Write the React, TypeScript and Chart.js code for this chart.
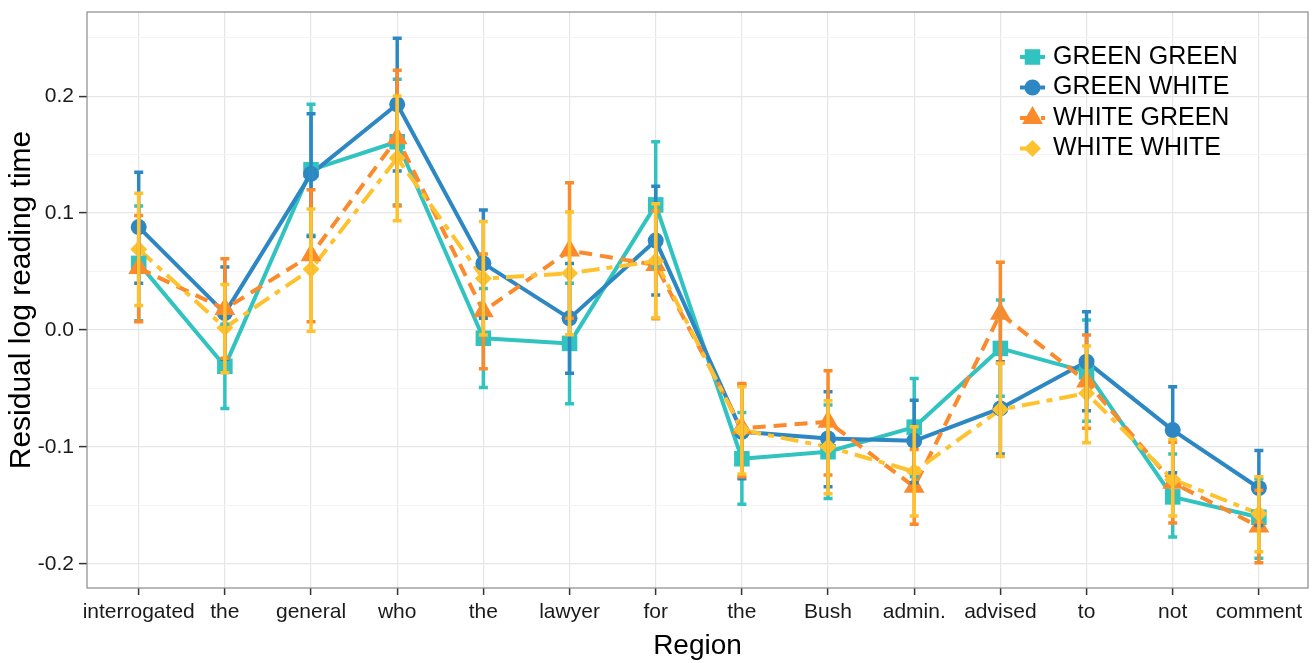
import React, { useEffect, useRef } from "react";
import { Chart, registerables } from "chart.js";

Chart.register(...registerables);

// ---------- data ----------
const categories = [
  "interrogated", "the", "general", "who", "the", "lawyer", "for",
  "the", "Bush", "admin.", "advised", "to", "not", "comment",
];

const seriesNames = ["GREEN GREEN", "GREEN WHITE", "WHITE GREEN", "WHITE WHITE"];

const greenGreenMean = [0.057, -0.031, 0.137, 0.161, -0.007, -0.0114, 0.107, -0.11, -0.104, -0.083, -0.0157, -0.0357, -0.1426, -0.16];
const greenGreenLow = [0.008, -0.067, 0.081, 0.107, -0.049, -0.063, 0.054, -0.149, -0.144, -0.1255, -0.0565, -0.078, -0.177, -0.195];
const greenGreenHigh = [0.106, 0.005, 0.193, 0.2145, 0.0356, 0.04, 0.161, -0.0704, -0.064, -0.0413, 0.0257, 0.0086, -0.106, -0.127];

const greenWhiteMean = [0.088, 0.0145, 0.1335, 0.193, 0.057, 0.01, 0.0765, -0.087, -0.0927, -0.0947, -0.067, -0.027, -0.0855, -0.135];
const greenWhiteLow = [0.04, -0.025, 0.08, 0.136, 0.01, -0.037, 0.03, -0.127, -0.134, -0.1305, -0.106, -0.069, -0.122, -0.167];
const greenWhiteHigh = [0.135, 0.054, 0.185, 0.2495, 0.1026, 0.057, 0.123, -0.047, -0.0527, -0.06, -0.027, 0.0157, -0.0485, -0.103];

const whiteGreenMean = [0.053, 0.018, 0.064, 0.164, 0.016, 0.068, 0.0556, -0.084, -0.0784, -0.134, 0.014, -0.044, -0.1305, -0.168];
const whiteGreenLow = [0.007, -0.024, 0.007, 0.106, -0.033, 0.01, 0.0096, -0.1255, -0.124, -0.166, -0.028, -0.084, -0.165, -0.199];
const whiteGreenHigh = [0.098, 0.061, 0.12, 0.222, 0.065, 0.126, 0.1017, -0.0456, -0.0348, -0.102, 0.058, -0.0043, -0.096, -0.137];

const whiteWhiteMean = [0.069, 0.002, 0.052, 0.147, 0.044, 0.0485, 0.059, -0.0855, -0.0998, -0.121, -0.068, -0.054, -0.1277, -0.157];
const whiteWhiteLow = [0.021, -0.0365, -0.001, 0.0935, -0.0043, -0.004, 0.0105, -0.123, -0.14, -0.159, -0.108, -0.0964, -0.159, -0.1896];
const whiteWhiteHigh = [0.117, 0.039, 0.1035, 0.2, 0.0927, 0.101, 0.108, -0.0485, -0.0605, -0.0827, -0.0285, -0.0137, -0.0935, -0.1255];

const yMajorTicks = [-0.2, -0.1, 0, 0.1, 0.2];
const yTickLabels = ["-0.2", "-0.1", "0.0", "0.1", "0.2"];
const yMinorTicks = [-0.15, -0.05, 0.05, 0.15, 0.25];

// ---------- styles ----------
const FONT = "'Liberation Sans', Arial, sans-serif";

type Style = { color: string; dash: number[]; pointStyle: string; radius: number };
const styles: Style[] = [
  { color: "#31C3BF", dash: [], pointStyle: "rect", radius: 11 },
  { color: "#2C87C3", dash: [], pointStyle: "circle", radius: 8 },
  { color: "#FA8A2C", dash: [13, 8], pointStyle: "triangle", radius: 12 },
  { color: "#FEC22E", dash: [18, 7, 6, 7], pointStyle: "rectRot", radius: 8.5 },
];

const seriesData = [
  { mean: greenGreenMean, low: greenGreenLow, high: greenGreenHigh },
  { mean: greenWhiteMean, low: greenWhiteLow, high: greenWhiteHigh },
  { mean: whiteGreenMean, low: whiteGreenLow, high: whiteGreenHigh },
  { mean: whiteWhiteMean, low: whiteWhiteLow, high: whiteWhiteHigh },
];

const isMajor = (v: number) => yMajorTicks.some((m) => Math.abs(m - v) < 1e-9);

function drawMarker(ctx: CanvasRenderingContext2D, style: string, x: number, y: number, r: number, color: string) {
  ctx.save();
  ctx.fillStyle = color;
  ctx.beginPath();
  if (style === "rect") {
    const s = Math.SQRT1_2 * r;
    ctx.rect(x - s, y - s, 2 * s, 2 * s);
  } else if (style === "circle") {
    ctx.arc(x, y, r, 0, Math.PI * 2);
  } else if (style === "triangle") {
    let rad = 0;
    ctx.moveTo(x + Math.sin(rad) * r, y - Math.cos(rad) * r);
    rad += (2 * Math.PI) / 3;
    ctx.lineTo(x + Math.sin(rad) * r, y - Math.cos(rad) * r);
    rad += (2 * Math.PI) / 3;
    ctx.lineTo(x + Math.sin(rad) * r, y - Math.cos(rad) * r);
    ctx.closePath();
  } else {
    ctx.moveTo(x, y - r);
    ctx.lineTo(x + r, y);
    ctx.lineTo(x, y + r);
    ctx.lineTo(x - r, y);
    ctx.closePath();
  }
  ctx.fill();
  ctx.restore();
}

const errorBarPlugin = {
  id: "errorBars",
  afterDatasetsDraw(chart: any) {
    const { ctx, scales } = chart;
    const xs = scales.x;
    const ys = scales.y;
    ctx.save();
    ctx.lineCap = "butt";
    ctx.lineWidth = 3.5;
    seriesData.forEach((s, si) => {
      ctx.strokeStyle = styles[si].color;
      ctx.setLineDash([]);
      s.low.forEach((lo, i) => {
        const x = xs.getPixelForValue(i);
        const yl = ys.getPixelForValue(lo);
        const yh = ys.getPixelForValue(s.high[i]);
        const cap = 4.5;
        ctx.beginPath();
        ctx.moveTo(x - cap, yh);
        ctx.lineTo(x + cap, yh);
        ctx.moveTo(x, yh);
        ctx.lineTo(x, yl);
        ctx.moveTo(x - cap, yl);
        ctx.lineTo(x + cap, yl);
        ctx.stroke();
      });
    });
    ctx.restore();
  },
};

const panelBorderPlugin = {
  id: "panelBorder",
  afterDraw(chart: any) {
    const { ctx, chartArea } = chart;
    ctx.save();
    ctx.strokeStyle = "#8a8a8a";
    ctx.lineWidth = 1.2;
    ctx.strokeRect(chartArea.left, chartArea.top, chartArea.right - chartArea.left, chartArea.bottom - chartArea.top);
    ctx.restore();
  },
};

const legendPlugin = {
  id: "customLegend",
  afterDraw(chart: any) {
    const { ctx, chartArea } = chart;
    const x0 = chartArea.right - 288;
    const y0 = chartArea.top + 45;
    ctx.save();
    seriesNames.forEach((name, i) => {
      const st = styles[i];
      const y = y0 + i * 30.5;
      ctx.strokeStyle = st.color;
      ctx.lineWidth = 4;
      ctx.setLineDash(st.dash);
      ctx.beginPath();
      ctx.moveTo(x0, y);
      ctx.lineTo(x0 + 25, y);
      ctx.stroke();
      ctx.setLineDash([]);
      drawMarker(ctx, st.pointStyle, x0 + 12.5, y, st.radius, st.color);
      ctx.fillStyle = "#000";
      ctx.font = `25px ${FONT}`;
      ctx.textBaseline = "middle";
      ctx.textAlign = "left";
      ctx.fillText(name, x0 + 33, y);
    });
    ctx.restore();
  },
};

export default function App() {
  const canvasRef = useRef<HTMLCanvasElement | null>(null);

  useEffect(() => {
    document.body.style.margin = "0";
    const canvas = canvasRef.current;
    if (!canvas) return;

    const lineSets = seriesData.map((s, i) => ({
      label: seriesNames[i] + " line",
      data: s.mean.map((y, idx) => ({ x: idx, y })),
      borderColor: styles[i].color,
      backgroundColor: styles[i].color,
      borderWidth: 4,
      borderDash: styles[i].dash,
      borderJoinStyle: "round" as const,
      pointRadius: 0,
      pointHoverRadius: 0,
      fill: false,
      tension: 0,
      order: 8 - i,
    }));
    const pointSets = seriesData.map((s, i) => ({
      label: seriesNames[i],
      data: s.mean.map((y, idx) => ({ x: idx, y })),
      showLine: false,
      pointStyle: styles[i].pointStyle,
      pointRadius: styles[i].radius,
      pointHoverRadius: styles[i].radius,
      pointBackgroundColor: styles[i].color,
      pointBorderColor: styles[i].color,
      pointBorderWidth: 0,
      borderColor: styles[i].color,
      backgroundColor: styles[i].color,
      order: 4 - i,
    }));

    const chart = new Chart(canvas, {
      type: "line",
      data: { datasets: [...lineSets, ...pointSets] as any },
      options: {
        responsive: false,
        animation: false,
        devicePixelRatio: 1,
        layout: { autoPadding: false, padding: { left: 0, top: 12, right: 6, bottom: 0 } },
        plugins: {
          legend: { display: false },
          tooltip: { enabled: false },
        },
        scales: {
          x: {
            type: "linear",
            min: -0.6,
            max: 13.57,
            afterBuildTicks: (s: any) => {
              s.ticks = categories.map((_, i) => ({ value: i }));
            },
            afterFit: (s: any) => {
              s.height = 75;
              s.paddingLeft = 0;
              s.paddingRight = 0;
            },
            ticks: {
              autoSkip: false,
              maxRotation: 0,
              minRotation: 0,
              padding: 5,
              color: "#1a1a1a",
              font: { family: FONT, size: 21 },
              callback: (v: any) => categories[Math.round(Number(v))] ?? "",
            },
            grid: {
              color: "#e6e6e6",
              lineWidth: 1.2,
              tickColor: "#333333",
              tickLength: 7,
              tickWidth: 1.5,
            },
            border: { display: false },
            title: {
              display: true,
              text: "Region",
              color: "#000",
              font: { family: FONT, size: 28 },
              padding: { top: 0, bottom: 0 },
            },
          },
          y: {
            type: "linear",
            min: -0.2205,
            max: 0.2719,
            afterBuildTicks: (s: any) => {
              s.ticks = [...yMinorTicks, ...yMajorTicks]
                .sort((a, b) => a - b)
                .map((v) => ({ value: v }));
            },
            afterFit: (s: any) => {
              s.width = 87;
              s.paddingTop = 0;
              s.paddingBottom = 0;
            },
            ticks: {
              padding: 5,
              color: "#1a1a1a",
              font: { family: FONT, size: 21 },
              callback: (v: any) => {
                const idx = yMajorTicks.findIndex((m) => Math.abs(m - Number(v)) < 1e-9);
                return idx >= 0 ? yTickLabels[idx] : "";
              },
            },
            grid: {
              color: (ctx: any) => (ctx.tick && isMajor(ctx.tick.value) ? "#e6e6e6" : "#f3f3f3"),
              lineWidth: (ctx: any) => (ctx.tick && isMajor(ctx.tick.value) ? 1.2 : 1),
              tickColor: (ctx: any) => (ctx.tick && isMajor(ctx.tick.value) ? "#333333" : "rgba(0,0,0,0)"),
              tickLength: 8,
              tickWidth: 1.5,
            },
            border: { display: false },
            title: {
              display: true,
              text: "Residual log reading time",
              color: "#000",
              font: { family: FONT, size: 30 },
              padding: { top: 4, bottom: 0 },
            },
          },
        },
      },
      plugins: [errorBarPlugin, panelBorderPlugin, legendPlugin],
    });

    return () => chart.destroy();
  }, []);

  return (
    <div style={{ width: 1314, height: 663 }}>
      <canvas ref={canvasRef} width={1314} height={663} />
    </div>
  );
}
